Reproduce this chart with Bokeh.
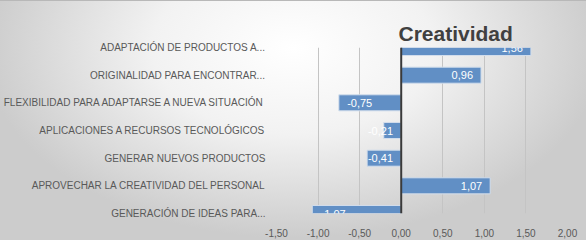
import numpy as np
from bokeh.plotting import figure
from bokeh.models import (ColumnDataSource, Range1d, FixedTicker, Span, LabelSet, Title)
from bokeh.core.properties import value
from bokeh.embed import file_html
from bokeh.resources import INLINE

categories = [
    "ADAPTACIÓN DE PRODUCTOS A...",
    "ORIGINALIDAD PARA ENCONTRAR...",
    "FLEXIBILIDAD PARA ADAPTARSE A NUEVA SITUACIÓN",
    "APLICACIONES A RECURSOS TECNOLÓGICOS",
    "GENERAR NUEVOS PRODUCTOS",
    "APROVECHAR LA CREATIVIDAD DEL PERSONAL",
    "GENERACIÓN DE IDEAS PARA...",
]
values = [1.56, 0.96, -0.75, -0.21, -0.41, 1.07, -1.07]
value_labels = ["1,56", "0,96", "-0,75", "-0,21", "-0,41", "1,07", "-1,07"]
x_ticks = [-1.5, -1.0, -0.5, 0.0, 0.5, 1.0, 1.5, 2.0]
x_tick_labels = ["-1,50", "-1,00", "-0,50", "0,00", "0,50", "1,00", "1,50", "2,00"]
title_text = "Creatividad"

FONT = "Liberation Sans"
n = len(categories)
ypos = list(range(n - 1, -1, -1))
vals = np.array(values)

src = ColumnDataSource(dict(y=ypos, v=values))

p = figure(width=586, height=240, output_backend="svg", toolbar_location=None,
           x_range=Range1d(x_ticks[0], x_ticks[-1]), y_range=Range1d(0, n - 1),
           min_border_left=276, min_border_right=19, min_border_top=47, min_border_bottom=27)
p.styles = {"background": "radial-gradient(ellipse 60% 90% at 50% 20%, #ffffff 0%, #f2f2f2 40%, #cccccc 88%)",
            "box-shadow": "inset 0 1px 0 #b8b8b8"}
p.background_fill_color = None
p.border_fill_color = None
p.outline_line_color = None

p.hbar(y="y", right="v", left=0, height=0.58, source=src,
       fill_color="#618fc5", line_color="#d3deec", line_width=1)

p.add_layout(Span(location=0, dimension="height", line_color="#3a3a3a", line_width=2))

# data labels
pos = vals >= 0
psrc = ColumnDataSource(dict(x=vals[pos], y=np.array(ypos)[pos],
                             t=[l for l, k in zip(value_labels, pos) if k]))
nx = np.minimum(vals[~pos] + 0.1, -0.40)
nsrc = ColumnDataSource(dict(x=nx, y=np.array(ypos)[~pos],
                             t=[l for l, k in zip(value_labels, pos) if not k]))
p.add_layout(LabelSet(x="x", y="y", text="t", source=psrc, x_offset=-8,
                      text_align="right", text_baseline="middle", text_color="white",
                      text_font=value(FONT), text_font_size="11px"))
p.add_layout(LabelSet(x="x", y="y", text="t", source=nsrc,
                      text_align="left", text_baseline="middle", text_color="white",
                      text_font=value(FONT), text_font_size="11px"))

# axes
p.xaxis.ticker = FixedTicker(ticks=x_ticks)
p.xaxis.major_label_overrides = {t: l for t, l in zip(x_ticks, x_tick_labels)}
p.xaxis.axis_line_color = None
p.xaxis.major_tick_line_color = None
p.xaxis.minor_tick_line_color = None
p.xaxis.major_label_standoff = 9
p.xaxis.major_label_text_font = FONT
p.xaxis.major_label_text_font_size = "10px"
p.xaxis.major_label_text_color = "#595959"

p.yaxis.ticker = FixedTicker(ticks=ypos)
p.yaxis.major_label_overrides = {y: c for y, c in zip(ypos, categories)}
p.yaxis.axis_line_color = None
p.yaxis.major_tick_line_color = None
p.yaxis.minor_tick_line_color = None
p.yaxis.major_label_standoff = 5
p.yaxis.major_label_text_font = FONT
p.yaxis.major_label_text_font_size = "10px"
p.yaxis.major_label_text_color = "#595959"

p.xgrid.ticker = FixedTicker(ticks=x_ticks)
p.xgrid.grid_line_color = "#c4c4c4"
p.ygrid.grid_line_color = None

p.title = None
p.add_layout(Title(text=title_text, align="left", offset=122, text_font=FONT,
                   text_font_size="21px", text_font_style="bold", text_color="#404040",
                   standoff=5), "above")

open("out.html", "w").write(file_html(p, INLINE))
